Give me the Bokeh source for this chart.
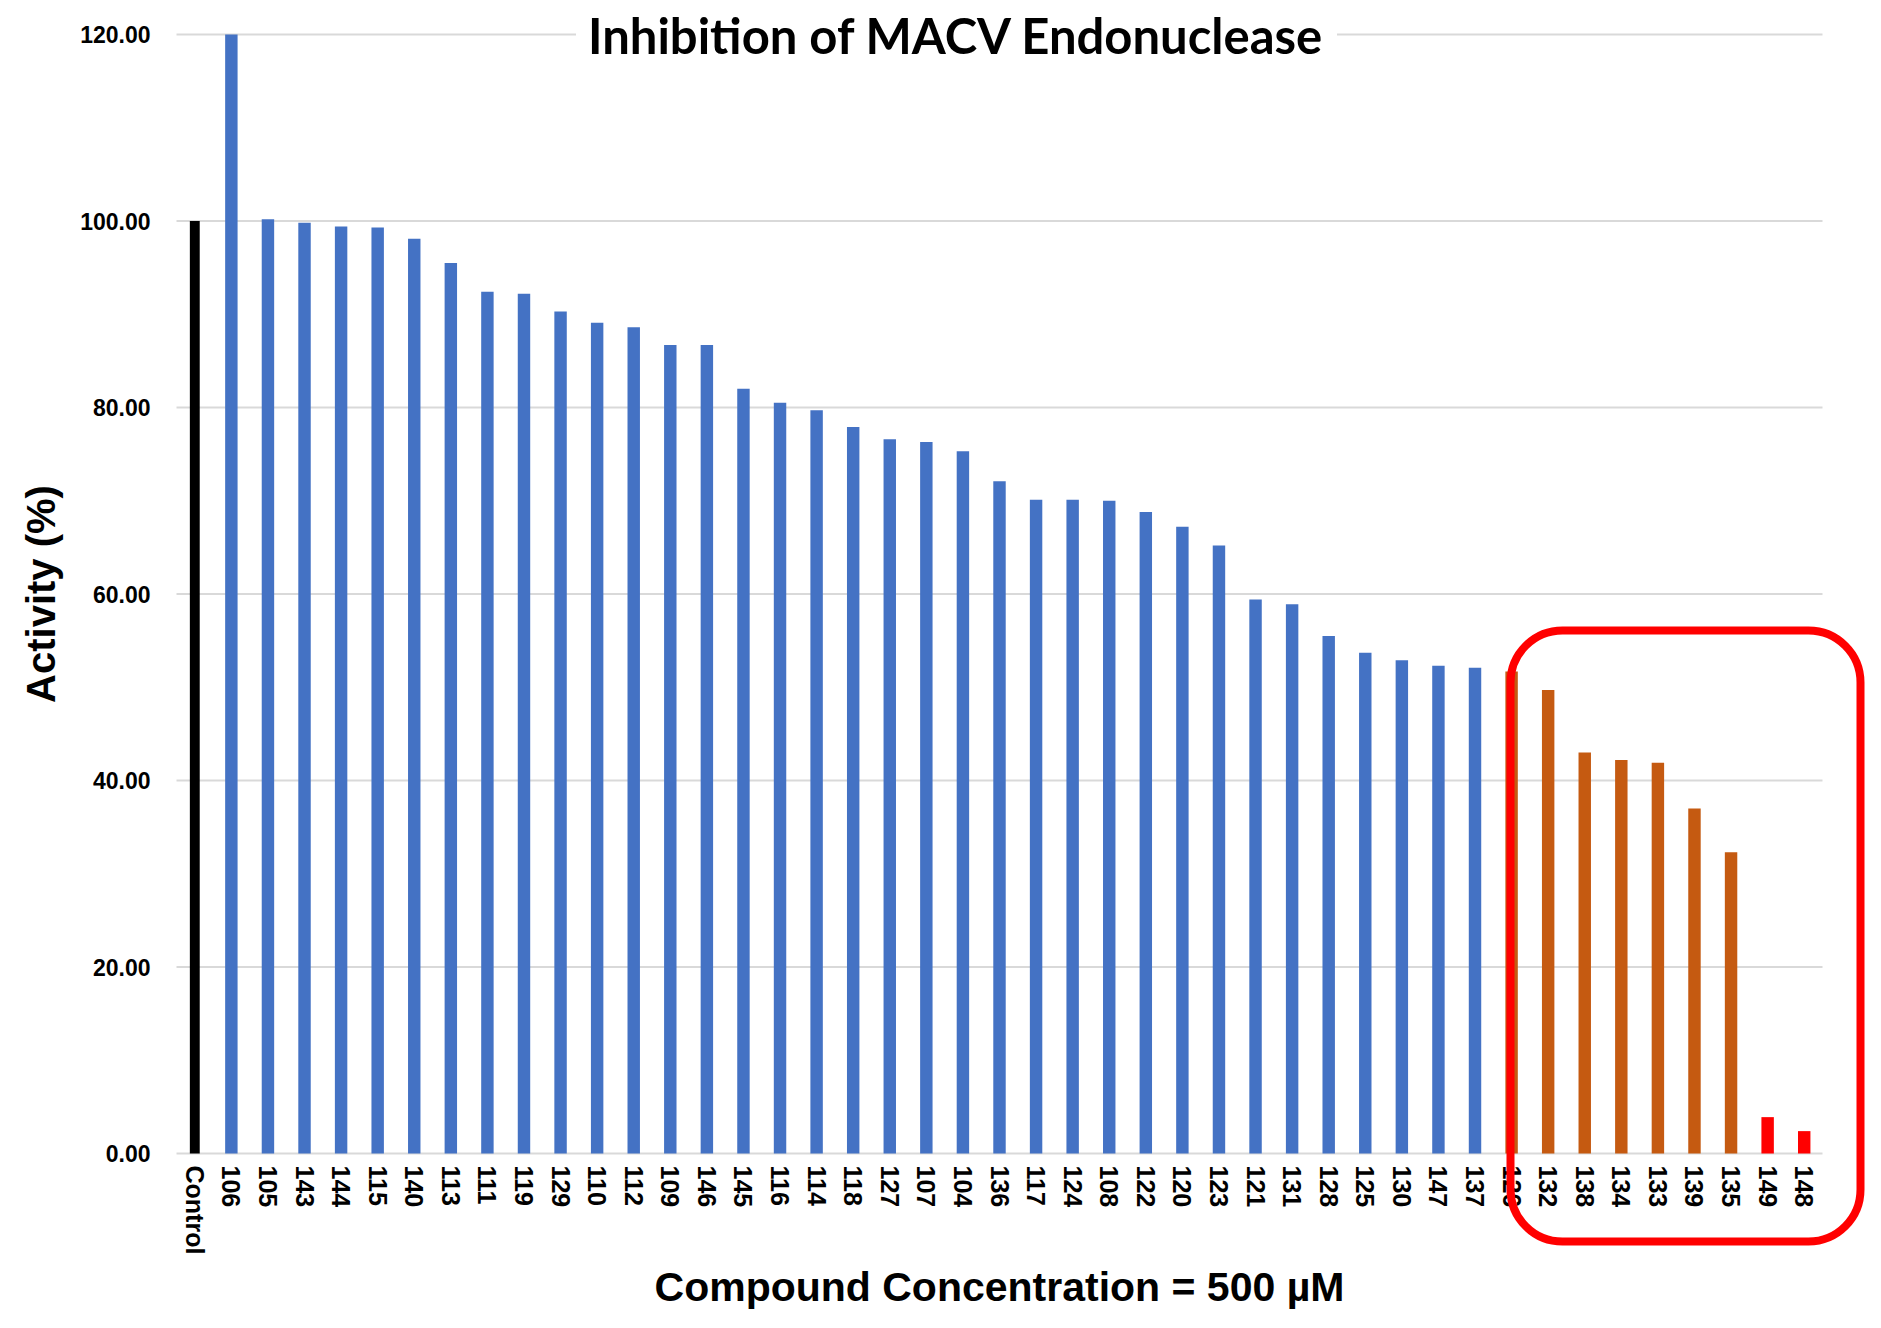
from bokeh.plotting import figure
from bokeh.models import (ColumnDataSource, Range1d, FixedTicker, PrintfTickFormatter,
                          Label, BoxAnnotation)
from bokeh.embed import file_html
from bokeh.resources import INLINE

compounds = ["Control", "106", "105", "143", "144", "115", "140", "113", "111", "119",
             "129", "110", "112", "109", "146", "145", "116", "114", "118", "127",
             "107", "104", "136", "117", "124", "108", "122", "120", "123", "121",
             "131", "128", "125", "130", "147", "137", "126", "132", "138", "134",
             "133", "139", "135", "149", "148"]
activity = [100.0, 120.0, 100.2, 99.8, 99.4, 99.3, 98.1, 95.5, 92.4, 92.2,
            90.3, 89.1, 88.6, 86.7, 86.7, 82.0, 80.5, 79.7, 77.9, 76.6,
            76.3, 75.3, 72.1, 70.1, 70.1, 70.0, 68.8, 67.2, 65.2, 59.4,
            58.9, 55.5, 53.7, 52.9, 52.3, 52.1, 51.7, 49.7, 43.0, 42.2,
            41.9, 37.0, 32.3, 3.9, 2.4]
group = (["control"] + ["screen"] * 35 + ["hit"] * 7 + ["potent"] * 2)
y_ticks = [0, 20, 40, 60, 80, 100, 120]

palette = {"control": "#000000", "screen": "#4472C4", "hit": "#C55A11", "potent": "#FF0000"}
widths = {"control": 0.27, "screen": 0.34, "hit": 0.34, "potent": 0.34}

n = len(compounds)
pos = list(range(n))

# canvas geometry (pixels on the canvas)
W, H = 1865, 1312
fx0, fx1 = 176, 1822        # left / right of the category area
fy_top, fy_zero = 34, 1153  # y of top tick and of zero line
sx = (fx1 - fx0) / n
sy = (fy_zero - fy_top) / (y_ticks[-1] - y_ticks[0])
x_start = -0.5 - fx0 / sx
x_end = -0.5 + (W - fx0) / sx
y_end = y_ticks[-1] + fy_top / sy
y_start = -(H - fy_zero) / sy

p = figure(x_range=Range1d(x_start, x_end), y_range=Range1d(y_start, y_end),
           width=W, height=H, output_backend="svg", toolbar_location=None,
           min_border_left=0, min_border_right=0, min_border_top=0, min_border_bottom=0)
p.outline_line_color = None
p.background_fill_color = "white"
p.xgrid.visible = False
p.ygrid.visible = False

# horizontal grid lines spanning the category area only
p.segment(x0=[-0.5] * len(y_ticks), x1=[n - 0.5] * len(y_ticks), y0=y_ticks, y1=y_ticks,
          line_color="#D9D9D9", line_width=2)

for g in ["control", "screen", "hit", "potent"]:
    idx = [i for i, gg in enumerate(group) if gg == g]
    src = ColumnDataSource(dict(x=[pos[i] for i in idx], top=[activity[i] for i in idx]))
    p.vbar(x="x", top="top", bottom=0, width=widths[g], source=src,
           fill_color=palette[g], line_color=None)

for ax in (p.xaxis[0], p.yaxis[0]):
    ax.axis_line_color = None
    ax.major_tick_line_color = None
    ax.minor_tick_line_color = None
    ax.major_label_text_font = "Liberation Sans"
    ax.major_label_text_font_style = "bold"
    ax.major_label_text_color = "#000000"
    ax.axis_label_text_font = "Liberation Sans"
    ax.axis_label_text_font_style = "bold"
    ax.axis_label_text_color = "#000000"

p.xaxis.fixed_location = 0
p.xaxis.bounds = (-0.5, n - 0.5)
p.xaxis.ticker = FixedTicker(ticks=pos, minor_ticks=[])
p.xaxis.major_label_overrides = {i: c for i, c in zip(pos, compounds)}
p.xaxis.axis_label = "Compound Concentration = 500 µM"
p.xaxis.axis_label_text_font_size = "41px"
p.xaxis.major_label_text_font_size = "25px"
p.xaxis.major_label_orientation = "vertical"
p.xaxis.major_label_standoff = 6
p.xaxis.axis_label_standoff = 7

p.yaxis.fixed_location = -0.5
p.yaxis.bounds = (y_ticks[0], y_ticks[-1])
p.yaxis.ticker = FixedTicker(ticks=y_ticks, minor_ticks=[])
p.yaxis.formatter = PrintfTickFormatter(format="%.2f")
p.yaxis.axis_label = "Activity (%)"
p.yaxis.axis_label_text_font_size = "40px"
p.yaxis.major_label_text_font_size = "23px"
p.yaxis.major_label_standoff = 20
p.yaxis.axis_label_standoff = 14

title = Label(x=956, x_units="canvas", y=y_ticks[-1], y_units="data",
              text="Inhibition of MACV Endonuclease", text_align="center",
              text_baseline="middle", text_font="Lato", text_font_style="bold",
              text_font_size="49px", text_color="#000000",
              background_fill_color="white", padding=12)
p.add_layout(title)

box = BoxAnnotation(left=1510, right=1860, top=630, bottom=1241,
                    left_units="canvas", right_units="canvas",
                    top_units="canvas", bottom_units="canvas",
                    fill_color=None, fill_alpha=0, line_color="#FF0000", line_alpha=1.0,
                    line_width=8, border_radius=52)
p.add_layout(box)

open("out.html", "w").write(file_html(p, INLINE))
